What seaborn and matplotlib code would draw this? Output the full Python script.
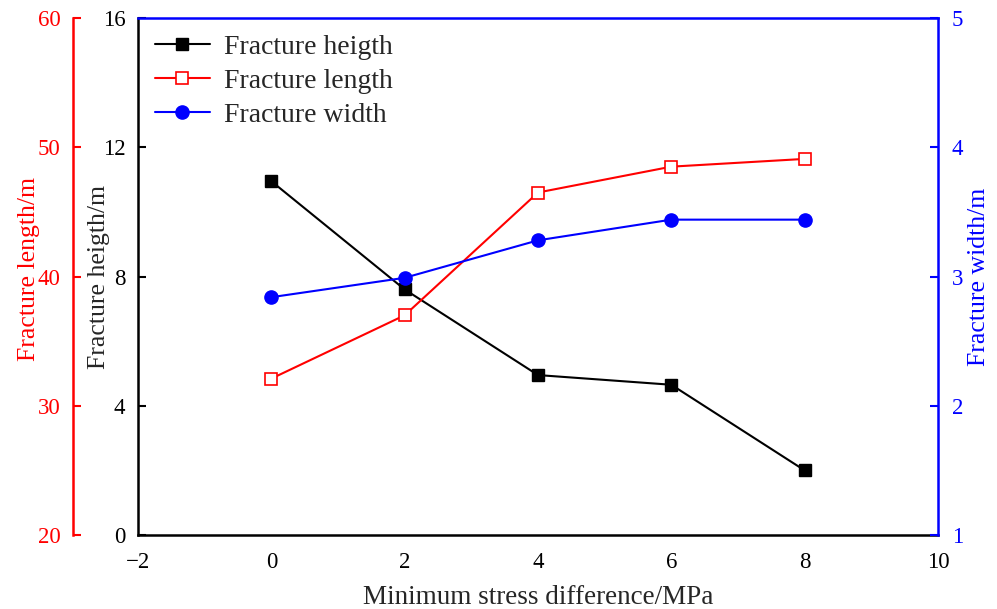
import matplotlib
matplotlib.use("Agg")
import matplotlib.pyplot as plt
import seaborn as sns
import pandas as pd

stress = [0, 2, 4, 6, 8]
height = [10.95, 7.6, 4.95, 4.65, 2.0]
length = [32.1, 37.0, 46.5, 48.5, 49.1]
width = [2.84, 2.99, 3.28, 3.44, 3.44]

sns.set_theme(style="white")
plt.rcParams['font.family'] = ['Liberation Serif', 'DejaVu Serif']
plt.rcParams['mathtext.fontset'] = 'stix'

df = pd.DataFrame({"x": stress, "h": height, "l": length, "w": width})

fig = plt.figure(figsize=(9.97, 6.09), dpi=100)
ax = fig.add_axes([0.1384, 0.1215, 0.8024, 0.8489])
ax_l = ax.twinx()
ax_w = ax.twinx()

sns.lineplot(data=df, x="x", y="h", ax=ax, color="black", marker="s", markersize=8,
             markeredgecolor="black", markerfacecolor="black", markeredgewidth=1.0,
             linewidth=1.5, legend=False)
sns.lineplot(data=df, x="x", y="l", ax=ax_l, color="red", marker="s", markersize=8,
             markeredgecolor="red", markerfacecolor="white", markeredgewidth=1.2,
             linewidth=1.5, legend=False)
sns.lineplot(data=df, x="x", y="w", ax=ax_w, color="blue", marker="o", markersize=9.5,
             markeredgecolor="blue", markerfacecolor="blue", markeredgewidth=1.0,
             linewidth=1.5, legend=False)

fs_tick = 16.5
fs_lab = 18.5

ax.set_xlim(-2, 10)
ax.set_ylim(0, 16)
ax.set_xticks([-2, 0, 2, 4, 6, 8, 10])
ax.set_yticks([0, 4, 8, 12, 16])
ax.set_ylabel("Fracture heigth/m", fontsize=fs_lab)
ax.yaxis.set_label_coords(-0.035, 0.5)
ax.tick_params(axis="both", direction="in", length=6, width=1.5, labelsize=fs_tick, colors="black")
ax.tick_params(axis="y", pad=9)
ax.tick_params(axis="x", pad=12, top=False)
ax.xaxis.set_ticklabels(["\u22122", "0", "2", "4", "6", "8", "10"])
for s in ["left", "bottom"]:
    ax.spines[s].set_linewidth(1.8)
    ax.spines[s].set_color("black")
ax.spines["top"].set_color("blue")
ax.spines["top"].set_linewidth(1.8)
ax.spines["right"].set_visible(False)

# length axis (red) on far left
ax_l.set_ylim(20, 60)
ax_l.set_yticks([20, 30, 40, 50, 60])
ax_l.yaxis.set_label_position("left")
ax_l.yaxis.set_ticks_position("left")
ax_l.spines["left"].set_position(("outward", 65 * 72 / 100))
ax_l.spines["left"].set_visible(True)
ax_l.spines["left"].set_color("red")
ax_l.spines["left"].set_linewidth(1.8)
for s in ["right", "top", "bottom"]:
    ax_l.spines[s].set_visible(False)
ax_l.tick_params(axis="y", direction="in", length=6, width=1.5, labelsize=fs_tick,
                 colors="red", labelcolor="red", pad=9)
ax_l.set_ylabel("Fracture length/m", fontsize=fs_lab, color="red")
ax_l.yaxis.set_label_coords(-0.122, 0.515)

# width axis (blue) on right
ax_w.set_ylim(1, 5)
ax_w.set_yticks([1, 2, 3, 4, 5])
for s in ["left", "top", "bottom"]:
    ax_w.spines[s].set_visible(False)
ax_w.spines["right"].set_color("blue")
ax_w.spines["right"].set_linewidth(1.8)
ax_w.tick_params(axis="y", direction="in", length=6, width=1.5, labelsize=fs_tick,
                 colors="blue", labelcolor="blue", pad=10)
ax_w.set_ylabel("Fracture width/m", fontsize=fs_lab, color="blue")
ax_w.yaxis.set_label_coords(1.038, 0.5)

for a in (ax, ax_l, ax_w):
    a.grid(False)
ax_l.set_xlabel("")
ax_w.set_xlabel("")
ax.set_xlabel("Minimum stress difference/MPa", fontsize=19.5, labelpad=9)

handles = ax.get_lines()[:1] + ax_l.get_lines()[:1] + ax_w.get_lines()[:1]
labels = ["Fracture heigth", "Fracture length", "Fracture width"]
ax.legend(handles, labels, loc="upper left", frameon=False, fontsize=20,
          handlelength=2.0, handletextpad=0.5, numpoints=1,
          borderaxespad=0.3, borderpad=0.3, labelspacing=0.3)

fig.savefig("out.png", dpi=100)
